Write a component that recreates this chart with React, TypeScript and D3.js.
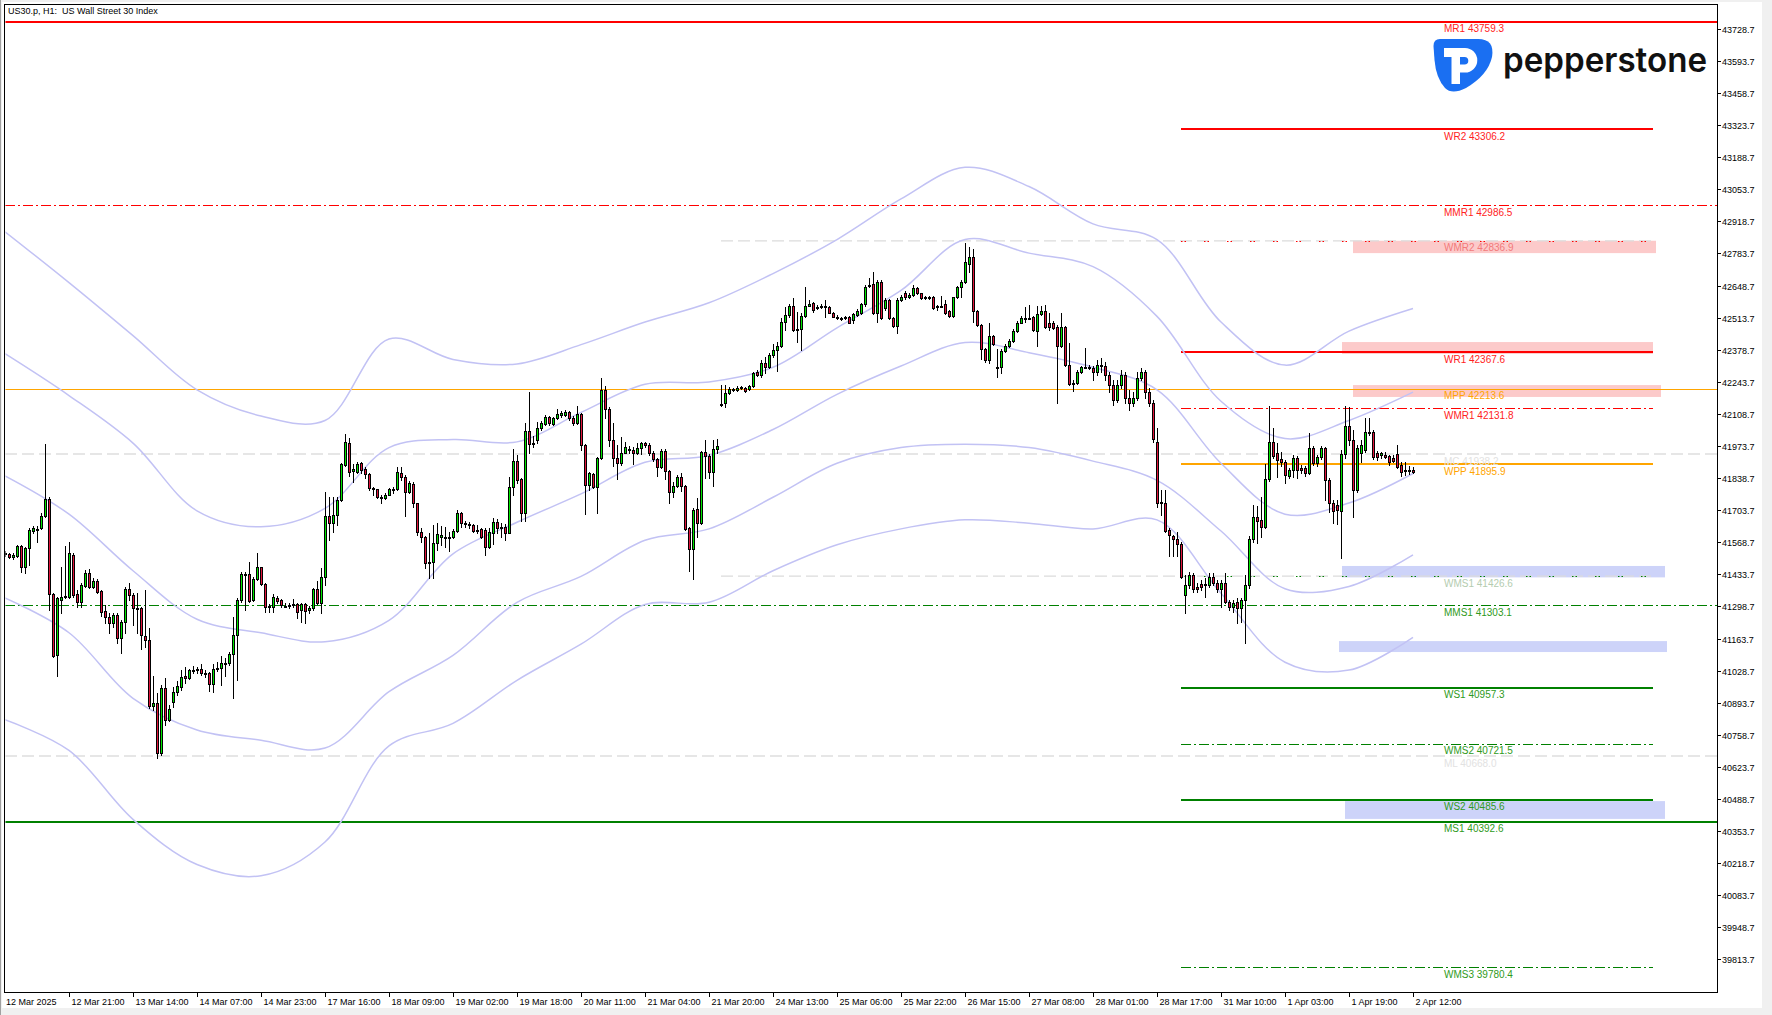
import React from "react";
import * as d3 from "d3";

// ---------------- DATA ----------------
const opens = [
41519,41519,41508,41512,41553,41466,41543,41617,41623,41630,
41679,41751,41350,41094,41326,41337,41337,41515,41350,41319,
41386,41438,41382,41406,41364,41279,41256,41230,41263,41164,
41235,41372,41347,41293,41291,41174,41157,40880,40891,40684,
40954,40821,40898,40940,40961,41006,40996,41030,41033,41034,
41020,41017,40971,41037,41038,41058,41059,41099,41178,41326,
41434,41435,41326,41413,41463,41393,41302,41298,41333,41326,
41302,41302,41306,41309,41284,41309,41284,41291,41372,41314,
41421,41679,41648,41683,41746,41894,41987,41870,41865,41903,
41875,41854,41797,41791,41759,41753,41767,41790,41791,
41862,41842,41782,41814,41732,41613,41592,41480,41486,41564,
41592,41589,41587,41589,41617,41690,41651,41644,41640,41622,
41623,41620,41550,41606,41653,41627,41634,41609,41803,41911,
41835,41690,42037,41982,41999,42048,42066,42094,42066,42090,
42104,42104,42115,42090,42069,42107,41978,41810,41855,41803,
41922,42209,42128,41999,41922,41901,41946,41957,41957,41946,
41964,41985,41976,41946,41918,41884,41954,41868,41782,41805,
41845,41805,41627,41539,41707,41648,41947,41932,41866,41960,
42150,42153,42195,42209,42209,42218,42218,42212,42226,42286,
42272,42324,42305,42357,42378,42396,42494,42525,42563,42462,
42464,42521,42563,42574,42557,42560,42561,42557,42535,42518,
42512,42514,42515,42504,42525,42535,42570,42647,42655,42535,
42665,42553,42588,42511,42478,42588,42619,42599,42609,42637,
42616,42599,42599,42599,42560,42563,42570,42542,42521,42599,
42641,42665,42739,42767,42543,42483,42380,42336,42436,42307,
42307,42375,42394,42415,42457,42493,42509,42512,42518,42457,
42528,42543,42493,42493,42476,42396,42476,42314,42235,42237,
42286,42306,42305,42300,
42285,42314,42310,42272,42230,42167,42230,42272,42176,42155,
42176,42260,42285,42201,42155,41991,41738,41734,41620,41595,
41582,41561,41347,41389,41431,41380,41393,41389,41389,41423,
41397,41372,41397,41317,41296,41317,41292,41326,41389,41582,
41675,41662,41633,41835,41990,41944,41919,41906,41847,41873,
41923,41881,41881,41860,41965,41902,41927,41965,41831,41734,
41725,41700,41940,42058,41999,41789,41944,41957,42028,42033,
41944,41936,41936,41932,41923,41940,41894,41873,41868,41873
];
const highs = [
41533,41525,41522,41558,41556,41550,41627,41638,41638,41690,
41982,41758,41354,41340,41466,41554,41571,41522,41368,41396,
41452,41455,41417,41413,41368,41305,41270,41270,41270,41242,
41379,41396,41357,41354,41298,41368,41206,41006,40936,40968,
40996,40884,40961,40985,41031,41043,41034,41048,41043,41056,
41031,41024,41056,41066,41090,41080,41108,41256,41333,41443,
41443,41487,41424,41522,41466,41399,41309,41351,41343,41331,
41312,41312,41328,41312,41314,41314,41300,41375,41407,41459,
41780,41758,41760,41760,41903,42024,42006,41900,41908,41908,
41884,41858,41802,41794,41767,41774,41795,41800,41884,
41887,41852,41828,41824,41735,41627,41595,41606,41641,41651,
41639,41634,41613,41623,41704,41697,41658,41655,41646,41641,
41627,41627,41627,41669,41665,41648,41644,41842,41960,41936,
41838,42069,42199,42016,42076,42079,42104,42100,42097,42128,
42122,42125,42122,42100,42142,42111,41981,41866,41859,41929,
42258,42226,42139,42069,41978,42010,41992,41974,41971,41988,
41992,41992,41985,41954,41922,41960,41960,41873,41824,41852,
41859,41810,41634,41711,41753,41954,41999,41940,41999,42003,
42230,42230,42221,42219,42226,42226,42223,42230,42286,42293,
42335,42347,42364,42403,42413,42511,42560,42571,42595,42539,
42532,42641,42588,42581,42567,42570,42588,42563,42539,42525,
42518,42521,42521,42535,42549,42574,42651,42679,42707,42672,
42672,42595,42592,42515,42595,42609,42627,42616,42651,42641,
42619,42605,42605,42603,42567,42605,42588,42546,42602,42647,
42672,42829,42812,42801,42546,42487,42385,42493,42441,42380,
42380,42403,42422,42464,42501,42521,42557,42567,42521,42563,
42563,42567,42532,42501,42483,42532,42478,42406,42251,42293,
42310,42385,42314,42310,
42336,42344,42327,42285,42251,42251,42293,42285,42209,42201,
42285,42302,42293,42218,42167,42049,41789,41789,41629,41599,
41612,41570,41431,41444,41439,41397,41410,41418,41439,41439,
41410,41410,41439,41326,41326,41334,41334,41431,41595,41725,
41721,41759,41898,42142,42049,41986,41948,41915,41881,41936,
41931,41894,41889,42028,41974,41936,41974,41969,41839,41747,
41747,41957,42142,42138,42041,41978,41999,42091,42091,42041,
41953,41948,41948,41936,41936,41978,41906,41906,41890,41885
];
const lows = [
41511,41501,41497,41508,41445,41438,41473,41606,41571,41623,
41676,41284,41085,41007,41270,41333,41333,41340,41298,41298,
41382,41375,41375,41354,41258,41228,41188,41214,41143,41104,
41185,41326,41221,41185,41118,41129,40870,40863,40663,40674,
40800,40818,40877,40926,40947,40975,40993,41017,41020,41010,
41003,40944,40940,41028,40968,41006,41052,40912,40989,41319,
41284,41319,41323,41410,41389,41277,41277,41277,41314,41298,
41295,41291,41298,41249,41235,41230,41272,41284,41309,41272,
41389,41578,41613,41641,41743,41889,41849,41821,41858,41858,
41837,41788,41767,41753,41735,41749,41767,41774,41788,
41831,41679,41777,41718,41599,41571,41459,41417,41417,41536,
41557,41550,41533,41585,41613,41634,41634,41627,41613,41609,
41585,41515,41543,41561,41606,41592,41578,41606,41769,41817,
41660,41660,41946,41971,41985,42041,42062,42062,42062,42086,
42097,42100,42083,42062,42066,41957,41686,41789,41796,41690,
41918,42090,41974,41890,41833,41894,41943,41946,41898,41940,
41940,41968,41936,41912,41847,41880,41833,41732,41758,41803,
41786,41620,41449,41413,41589,41644,41838,41838,41805,41946,
42142,42139,42192,42205,42206,42214,42202,42209,42223,42268,
42265,42279,42300,42350,42291,42392,42462,42518,42459,42413,
42378,42515,42563,42539,42549,42556,42518,42532,42515,42509,
42504,42506,42490,42490,42521,42529,42563,42641,42529,42497,
42507,42546,42507,42476,42448,42585,42591,42595,42605,42612,
42593,42591,42593,42550,42546,42557,42529,42518,42518,42595,
42602,42661,42707,42497,42479,42338,42329,42321,42399,42265,
42282,42371,42392,42413,42455,42490,42497,42506,42459,42396,
42525,42469,42462,42464,42153,42392,42310,42230,42207,42235,
42282,42300,42296,42251,
42272,42285,42251,42201,42146,42159,42218,42155,42125,42142,
42167,42251,42176,42142,41991,41717,41683,41612,41511,41511,
41511,41418,41271,41376,41359,41359,41368,41338,41380,41389,
41359,41296,41313,41284,41275,41229,41233,41145,41376,41570,
41566,41591,41629,41826,41923,41843,41889,41818,41839,41843,
41839,41860,41847,41856,41894,41889,41919,41747,41696,41650,
41646,41503,41923,41978,41675,41780,41906,41948,42020,41919,
41915,41923,41923,41894,41906,41881,41847,41852,41857,41860
];
const closes = [
41525,41508,41515,41553,41466,41543,41620,41627,41626,41679,
41751,41350,41090,41333,41340,41343,41522,41347,41319,41389,
41441,41382,41406,41361,41277,41253,41230,41263,41164,41235,
41372,41347,41291,41286,41178,41157,40880,40891,40684,40954,
40821,40866,40940,40964,41003,40996,41031,41033,41035,41017,
41016,40971,41034,41040,41059,41061,41099,41178,41326,41435,
41436,41323,41413,41466,41393,41298,41295,41337,41323,41305,
41299,41305,41309,41277,41309,41281,41293,41372,41312,41421,
41679,41648,41683,41746,41898,41989,41865,41875,41900,41872,
41854,41795,41794,41758,41756,41767,41791,41793,41865,
41842,41782,41817,41732,41613,41592,41480,41486,41564,41603,
41598,41587,41589,41617,41690,41651,41646,41640,41617,41619,
41592,41550,41613,41653,41627,41632,41609,41800,41911,41831,
41690,42037,41982,41988,42048,42069,42094,42069,42090,42107,
42111,42115,42090,42069,42107,41978,41810,41859,41803,41922,
42209,42128,41999,41922,41901,41946,41968,41960,41946,41964,
41985,41976,41946,41918,41884,41954,41868,41782,41805,41845,
41805,41623,41539,41704,41648,41947,41932,41866,41960,41974,
42151,42198,42212,42212,42219,42221,42206,42226,42282,42272,
42324,42305,42357,42378,42396,42494,42525,42563,42462,42464,
42521,42563,42571,42546,42560,42563,42564,42535,42518,42515,
42511,42515,42493,42529,42542,42570,42641,42651,42532,42665,
42511,42588,42511,42478,42588,42602,42599,42609,42637,42616,
42598,42598,42600,42553,42561,42564,42535,42521,42599,42644,
42665,42746,42767,42543,42483,42380,42336,42436,42403,42305,
42375,42394,42415,42457,42493,42514,42511,42514,42462,42528,
42543,42473,42473,42470,42396,42476,42314,42235,42237,42286,
42305,42307,42303,42286,
42314,42310,42272,42230,42167,42230,42272,42176,42155,42176,
42260,42285,42201,42155,42003,41734,41734,41616,41599,41582,
41561,41423,41389,41431,41372,41372,41380,41393,41423,41397,
41372,41397,41317,41296,41313,41292,41326,41389,41582,41675,
41658,41633,41835,41990,41931,41915,41906,41852,41873,41923,
41873,41873,41860,41965,41902,41927,41965,41831,41734,41700,
41704,41940,42058,41999,41789,41965,41978,42033,42033,41927,
41927,41944,41927,41906,41910,41885,41864,41868,41873,41866
];

// Bollinger envelope lines (average and two deviation pairs), read at every 16th bar
const bandBars = [0,16,32,48,64,80,96,112,128,144,160,176,192,208,224,240,256,272,288,304,320,336,352];
const bandUpperOuter = [42875,42661,42438,42210,42100,42081,42424,42338,42319,42400,42495,42576,42699,42842,43013,43146,43065,42908,42842,42495,42314,42457,42552];
const bandUpperInner = [42362,42186,41986,41701,41634,41711,41967,42001,41991,42115,42233,42243,42305,42471,42628,42842,42785,42728,42519,42162,42005,42081,42200];
const bandMiddle = [41848,41687,41449,41245,41188,41150,41240,41520,41653,41772,41905,41934,42043,42191,42310,42409,42366,42305,42210,41901,41687,41734,41858];
const bandLowerInner = [41335,41188,40912,40779,40736,40703,40940,41093,41316,41425,41577,41625,41758,41901,41967,41981,41967,41910,41829,41616,41373,41383,41516];
const bandLowerOuter = [40822,40693,40403,40213,40166,40308,40712,40807,40988,41140,41307,41316,41449,41558,41625,41663,41649,41625,41663,41354,41064,41031,41169];

const levelNames = ["MR1","WR2","MMR1","WMR2","WR1","MPP","WMR1","MC","WPP","WMS1","MMS1","WS1","WMS2","ML","WS2","MS1","WMS3"];
const levelValues = [43759.3,43306.2,42986.5,42836.9,42367.6,42213.6,42131.8,41938.2,41895.9,41426.6,41303.1,40957.3,40721.5,40668.0,40485.6,40392.6,39780.4];

// supply / demand zones: bottom price, top price, first bar, last bar
const zoneLow = [42785,42361,42180,41421,41107,40405];
const zoneHigh = [42837,42411,42230,41469,41153,40480];
const zoneStart = [337,334.25,337,334.25,333.5,335];
const zoneEnd = [412.75,412,414,415,415.5,415];
const zoneKind = ["supply","supply","supply","demand","demand","demand"];

const priceTicks = ["43728.7","43593.7","43458.7","43323.7","43188.7","43053.7","42918.7","42783.7","42648.7","42513.7","42378.7","42243.7","42108.7","41973.7","41838.7","41703.7","41568.7","41433.7","41298.7","41163.7","41028.7","40893.7","40758.7","40623.7","40488.7","40353.7","40218.7","40083.7","39948.7","39813.7"];
const timeLabels = ["12 Mar 2025","12 Mar 21:00","13 Mar 14:00","14 Mar 07:00","14 Mar 23:00","17 Mar 16:00","18 Mar 09:00","19 Mar 02:00","19 Mar 18:00","20 Mar 11:00","21 Mar 04:00","21 Mar 20:00","24 Mar 13:00","25 Mar 06:00","25 Mar 22:00","26 Mar 15:00","27 Mar 08:00","28 Mar 01:00","28 Mar 17:00","31 Mar 10:00","1 Apr 03:00","1 Apr 19:00","2 Apr 12:00"];

// ---------------- STYLES ----------------
const RED = "#ff0000", ORANGE = "#ffa500", GREEN = "#008000";
const GREEN_TXT = "#2f9a22", RED_TXT = "#ff2222";
const DASHDOT = "10,3,2,3";
const DOTS = "1.5,2,1.5,18";
const GREYDASH = "12,5";
type LS = { color: string; txt: string; w: number; dash?: string; span: "all" | "week" };
const levelStyle: Record<string, LS> = {
  MR1: { color: RED, txt: RED_TXT, w: 2, span: "all" },
  WR2: { color: RED, txt: RED_TXT, w: 2, span: "week" },
  MMR1: { color: RED, txt: RED_TXT, w: 1, dash: DASHDOT, span: "all" },
  WMR2: { color: RED, txt: "#f27a7a", w: 1, dash: DOTS, span: "week" },
  WR1: { color: RED, txt: RED_TXT, w: 2, span: "week" },
  MPP: { color: ORANGE, txt: ORANGE, w: 1, span: "all" },
  WMR1: { color: RED, txt: RED_TXT, w: 1, dash: DASHDOT, span: "week" },
  MC: { color: "#dedede", txt: "#e2e2e2", w: 1.3, dash: GREYDASH, span: "all" },
  WPP: { color: ORANGE, txt: ORANGE, w: 2, span: "week" },
  WMS1: { color: GREEN, txt: "#b4ccb0", w: 1, dash: DOTS, span: "week" },
  MMS1: { color: GREEN, txt: GREEN_TXT, w: 1, dash: DASHDOT, span: "all" },
  WS1: { color: GREEN, txt: GREEN_TXT, w: 2, span: "week" },
  WMS2: { color: GREEN, txt: GREEN_TXT, w: 1, dash: DASHDOT, span: "week" },
  ML: { color: "#dedede", txt: "#e2e2e2", w: 1.3, dash: GREYDASH, span: "all" },
  WS2: { color: GREEN, txt: GREEN_TXT, w: 2, span: "week" },
  MS1: { color: GREEN, txt: GREEN_TXT, w: 2, span: "all" },
  WMS3: { color: GREEN, txt: GREEN_TXT, w: 1, dash: DASHDOT, span: "week" },
};
const WEEK_START = 294, WEEK_END = 412, PREV_WEEK_START = 179, LABEL_BAR = 359.75;

const W = 1772, H = 1015;
const L = 5, R = 1717, T = 4, B = 992;
const FONT = "'Liberation Sans', Arial, sans-serif";

export default function App() {
  const x = d3.scaleLinear().domain([0, 428]).range([5, 1717]);
  const y = d3.scaleLinear().domain([39672.7, 43799.3]).range([993, 12]);

  const bandLine = d3
    .line<number>()
    .x((_, i) => x(bandBars[i]))
    .y((v) => y(v))
    .curve(d3.curveCatmullRom.alpha(0.5));

  const candles = opens.map((o, i) => {
    const c = closes[i];
    const hi = Math.max(highs[i], o, c);
    const lo = Math.min(lows[i], o, c);
    const cx = Math.round(x(i));
    const top = Math.round(y(Math.max(o, c)));
    const bot = Math.round(y(Math.min(o, c)));
    const h = Math.max(1, bot - top);
    const up = c >= o;
    return (
      <g key={i}>
        <line x1={cx + 0.5} x2={cx + 0.5} y1={Math.round(y(hi))} y2={Math.round(y(lo)) + 1} stroke="#000" strokeWidth={1} />
        <rect x={cx - 1} y={top} width={3} height={h + 1} fill="#000" />
        {h > 1 && <rect x={cx} y={top + 1} width={1} height={h - 1} fill={up ? "#00e600" : "#e0143c"} />}
      </g>
    );
  });

  return (
    <div style={{ position: "fixed", left: 0, top: 0 }}>
      <svg width={W} height={H} viewBox={`0 0 ${W} ${H}`} style={{ display: "block", fontFamily: FONT }}>
        <defs>
          <clipPath id="plot">
            <rect x={L + 0.5} y={T + 0.5} width={R - L - 0.5} height={B - T - 0.5} />
          </clipPath>
        </defs>
        <rect x={0} y={0} width={W} height={H} fill="#f0f0f0" />
        <rect x={2} y={2} width={1760} height={1006} fill="#ffffff" />
        <line x1={0.5} x2={0.5} y1={0} y2={H} stroke="#a0a0a0" />

        <g clipPath="url(#plot)">
          {zoneLow.map((lo, i) => (
            <rect key={"z" + i} x={x(zoneStart[i])} y={y(zoneHigh[i])} width={x(zoneEnd[i]) - x(zoneStart[i])} height={y(lo) - y(zoneHigh[i])}
              fill={zoneKind[i] === "supply" ? "rgba(245,80,80,0.3)" : "rgba(90,110,235,0.3)"} />
          ))}
          {["WMR2", "WMS1"].map((n) => (
            <line key={"g" + n} x1={x(PREV_WEEK_START)} x2={x(WEEK_END)} y1={y(levelValues[levelNames.indexOf(n)])} y2={y(levelValues[levelNames.indexOf(n)])}
              stroke="#dcdcdc" strokeWidth={1.3} strokeDasharray={GREYDASH} />
          ))}
          {levelNames.map((n, i) => {
            const s = levelStyle[n];
            const yy = Math.round(y(levelValues[i])) + (s.w === 1 ? 0.5 : 0);
            const x1 = s.span === "all" ? L : x(WEEK_START);
            const x2 = s.span === "all" ? R : x(WEEK_END);
            return <line key={"l" + n} x1={x1} x2={x2} y1={yy} y2={yy} stroke={s.color} strokeWidth={s.w} strokeDasharray={s.dash} />;
          })}
          {[bandUpperOuter, bandUpperInner, bandMiddle, bandLowerInner, bandLowerOuter].map((b, i) => (
            <path key={"b" + i} d={bandLine(b) || ""} fill="none" stroke="#c2c2f4" strokeWidth={1.5} />
          ))}
          <g shapeRendering="crispEdges">{candles}</g>
          {levelNames.map((n, i) => {
            const s = levelStyle[n];
            return (
              <text key={"t" + n} x={x(LABEL_BAR)} y={y(levelValues[i]) + 10.5} fontSize={10} fill={s.txt}>
                {`${n} ${levelValues[i].toFixed(1)}`}
              </text>
            );
          })}
        </g>

        <rect x={L - 0.5} y={T + 0.5} width={R - L + 1} height={B - T} fill="none" stroke="#000" strokeWidth={1} shapeRendering="crispEdges" />

        <text x={8} y={14} fontSize={9} fill="#000" style={{ whiteSpace: "pre" }}>{"US30.p, H1:  US Wall Street 30 Index"}</text>

        {priceTicks.map((t) => {
          const yy = Math.round(y(+t)) + 0.5;
          return (
            <g key={t}>
              <line x1={R} x2={R + 4} y1={yy} y2={yy} stroke="#000" shapeRendering="crispEdges" />
              <text x={R + 5} y={yy + 3.5} fontSize={9} fill="#000">{t}</text>
            </g>
          );
        })}

        {timeLabels.map((t, n) => {
          const xx = Math.round(x(n * 16)) + 0.5;
          return (
            <g key={t}>
              {n > 0 && <line x1={xx} x2={xx} y1={B} y2={B + 5} stroke="#000" shapeRendering="crispEdges" />}
              <text x={n === 0 ? 6 : xx + 2} y={1005} fontSize={9} fill="#000">{t}</text>
            </g>
          );
        })}

        <g>
          <path d="M1440,39 L1478,39 Q1495,39 1492,57 Q1488,75 1466,88 Q1452,95 1445,88 Q1436,78 1434.5,60 L1433.5,46 Q1433.5,39 1440,39 Z" fill="#1a6ff2" />
          <path fillRule="evenodd" fill="#ffffff"
            d="M1444,48 L1465,48 A12.3,12.3 0 0 1 1465,72.6 L1460,72.6 L1460,84 L1451.5,84 L1451.5,57 L1444,57 Z M1460,57 L1464.5,57 A3.8,3.8 0 0 1 1464.5,64.6 L1460,64.6 Z" />
          <text x={1503} y={72} fontSize={34} fontWeight={600} fill="#111" textLength={204} lengthAdjust="spacingAndGlyphs" style={{ fontFamily: "Inter, 'Noto Sans', sans-serif" }}>pepperstone</text>
        </g>
      </svg>
    </div>
  );
}
